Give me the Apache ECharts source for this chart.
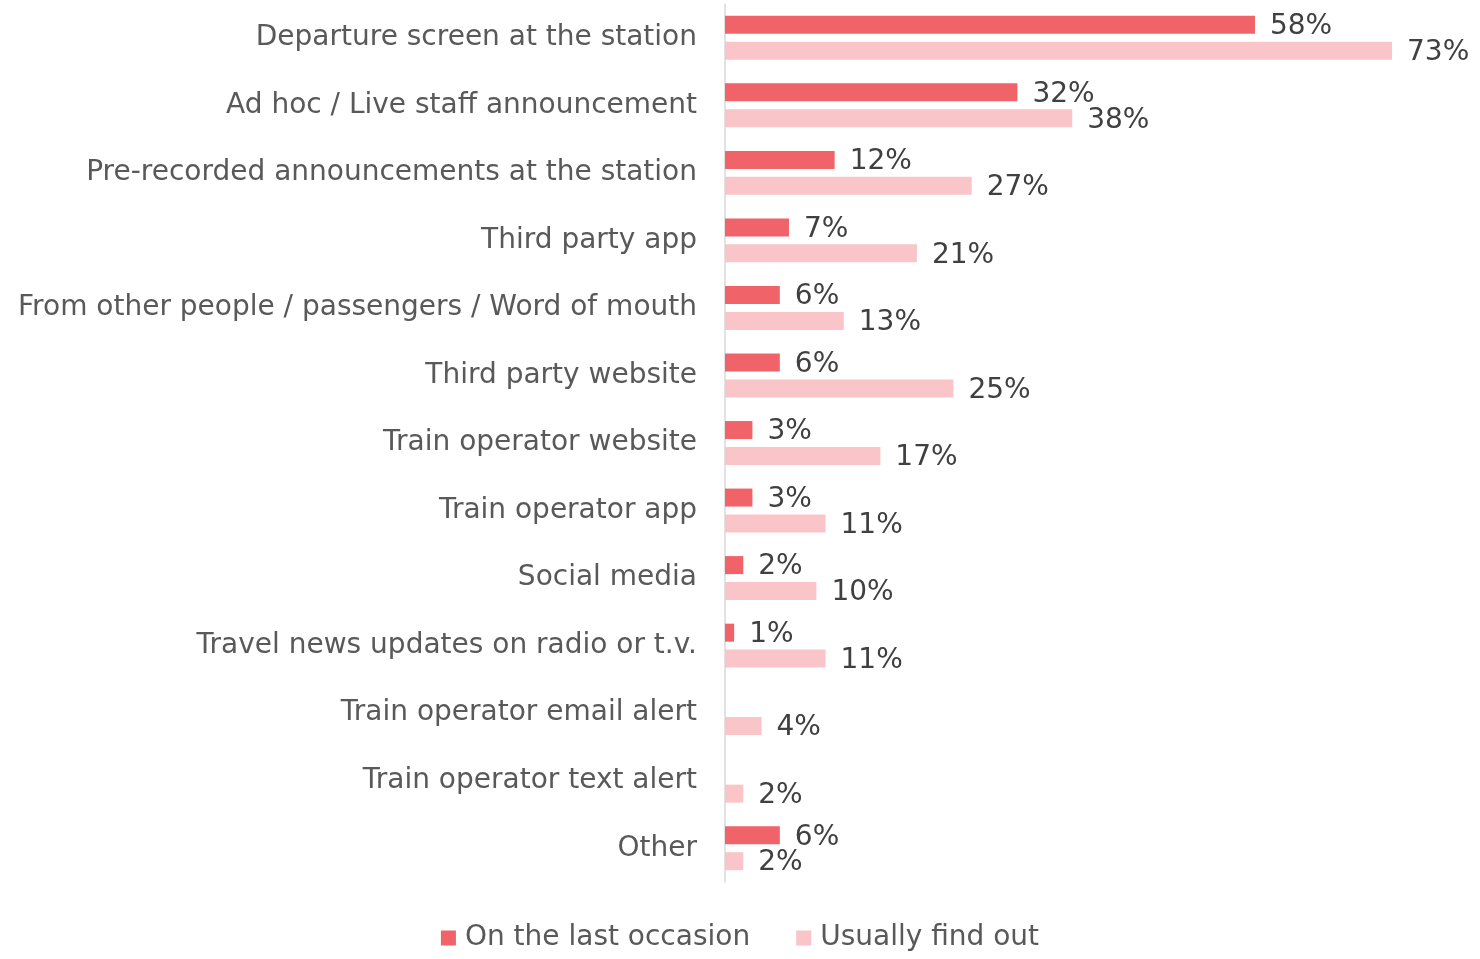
<!DOCTYPE html>
<html>
<head>
<meta charset="utf-8">
<script src="https://cdn.jsdelivr.net/npm/echarts@6/dist/echarts.min.js"></script>
<style>
  html, body { margin: 0; padding: 0; background: #ffffff; }
  #chart { width: 1480px; height: 959px; }
</style>
</head>
<body>
<div id="chart"></div>
<script>
// Information sources, listed top to bottom
const categories = [
  'Departure screen at the station',
  'Ad hoc / Live staff announcement',
  'Pre-recorded announcements at the station',
  'Third party app',
  'From other people / passengers / Word of mouth',
  'Third party website',
  'Train operator website',
  'Train operator app',
  'Social media',
  'Travel news updates on radio or t.v.',
  'Train operator email alert',
  'Train operator text alert',
  'Other'
];

// Percent of respondents
const lastOccasion = [58, 32, 12, 7, 6, 6, 3, 3, 2, 1, null, null, 6];
const usuallyFindOut = [73, 38, 27, 21, 13, 25, 17, 11, 10, 11, 4, 2, 2];

const seriesNames = ['On the last occasion', 'Usually find out'];

const FONT = '"DejaVu Sans", "Liberation Sans", Arial, sans-serif';

const chart = echarts.init(document.getElementById('chart'), null, { renderer: 'canvas' });

const valueLabel = {
  show: true,
  position: 'right',
  distance: 15,
  offset: [0, 2],
  color: '#404040',
  fontFamily: FONT,
  fontSize: 28,
  formatter: p => (p.value == null ? '' : p.value + '%')
};

chart.setOption({
  animation: false,
  textStyle: { fontFamily: FONT },
  legend: {
    bottom: 2,
    left: 'center',
    itemWidth: 15,
    itemHeight: 15,
    itemGap: 46,
    icon: 'rect',
    textStyle: { color: '#595959', fontSize: 28, fontFamily: FONT, padding: [0, 0, 0, 4] },
    data: seriesNames
  },
  grid: { left: 725, right: 24, top: 4, height: 878, containLabel: false },
  xAxis: {
    type: 'value',
    min: 0,
    max: 80,
    show: false,
    splitLine: { show: false }
  },
  yAxis: {
    type: 'category',
    data: categories,
    inverse: true,
    axisTick: { show: false },
    axisLine: { show: true, lineStyle: { color: '#D9D9D9', width: 1.5 } },
    axisLabel: {
      color: '#595959',
      fontSize: 28,
      fontFamily: FONT,
      margin: 28,
      padding: [5, 0, 0, 0]
    }
  },
  series: [
    {
      name: seriesNames[0],
      type: 'bar',
      data: lastOccasion,
      barWidth: 18,
      barGap: '44%',
      itemStyle: { color: '#F06368' },
      label: valueLabel
    },
    {
      name: seriesNames[1],
      type: 'bar',
      data: usuallyFindOut,
      barWidth: 18,
      barGap: '44%',
      itemStyle: { color: '#F9C5C8' },
      label: valueLabel
    }
  ]
});
</script>
</body>
</html>
